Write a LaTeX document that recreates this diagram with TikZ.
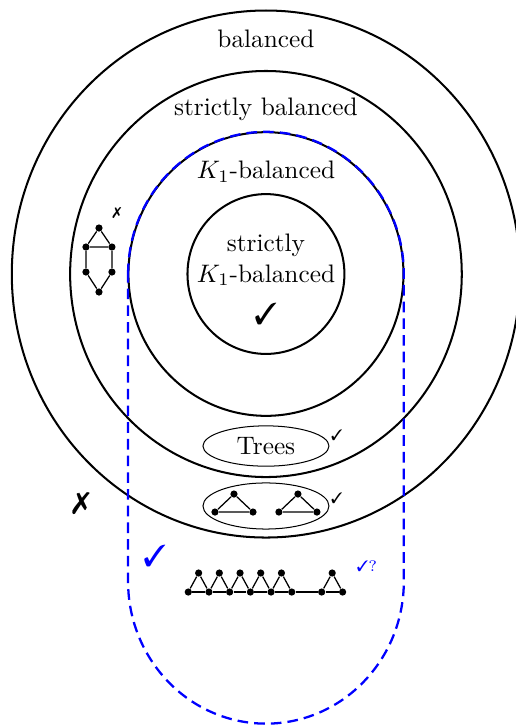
\documentclass[tikz,border=0pt]{standalone}
\usepackage{pifont}
\usetikzlibrary{shapes.geometric,positioning}

\begin{document}
\begin{tikzpicture}[
  ring/.style={draw, line width=0.8pt},
  cage/.style={draw=blue, line width=0.9pt, dash pattern=on 4.2pt off 2.4pt},
  blob/.style={draw, ellipse, inner sep=1pt, minimum width=17.5mm},
  vtx/.style={circle, fill, inner sep=0pt, minimum size=1mm},
  edge/.style={line width=0.5pt},
  bigmark/.style={font=\large, inner sep=0pt},
  smallmark/.style={font=\fontsize{6}{7}\selectfont, inner sep=0pt}
]
\useasboundingbox (-3.694,-6.264) rectangle (3.472,3.806);

% nested classes
\draw[ring] (0,0) ellipse [x radius=3.53, y radius=3.66];
\draw[ring] (0,0) ellipse [x radius=2.72, y radius=2.82];
\draw[ring] (0,0) ellipse [x radius=1.91, y radius=1.97];
\draw[ring] (0,0) ellipse [x radius=1.09, y radius=1.11];
\draw[cage] (-1.915,0) arc[start angle=180, end angle=0, x radius=1.915, y radius=1.975]
  -- (1.915,-4.27) arc[start angle=0, end angle=-180, x radius=1.915, y radius=1.975] -- cycle;

\node (bal) at (0,3.264) {balanced};
\node (sbal) at (0,2.29) {strictly balanced};
\node (kbal) at (0,1.417) {$K_1$-balanced};
\node[align=center] (skbal) at (0,0.194) {strictly\\$K_1$-balanced};
\node[bigmark] (inok) at (0,-0.556) {\ding{51}};

% examples
\node[blob, minimum height=5.6mm] (trees) at (0,-2.389) {Trees};
\node[smallmark] (treesok) at (0.986,-2.236) {\ding{51}};
\node[blob, minimum height=6.4mm] (pair) at (0,-3.222) {};
\node[smallmark] (pairok) at (0.986,-3.111) {\ding{51}};
\foreach \s/\n in {-0.444/l, 0.444/r} {
  \node[vtx] (t\n) at (\s,-3.056) {};
  \node[vtx] (a\n) at (\s-0.264,-3.306) {};
  \node[vtx] (b\n) at (\s+0.264,-3.306) {};
  \draw[edge] (t\n) -- (a\n) -- (b\n) -- (t\n);
}

% graph outside
\node[vtx] (h0) at (-2.319,0.639) {};
\node[vtx] (h1) at (-2.5,0.375) {};
\node[vtx] (h2) at (-2.139,0.375) {};
\node[vtx] (h3) at (-2.5,0.028) {};
\node[vtx] (h4) at (-2.139,0.028) {};
\node[vtx] (h5) at (-2.319,-0.25) {};
\draw[edge] (h1) -- (h0) -- (h2) -- (h1) -- (h3) -- (h5) -- (h4) -- (h2);
\node[smallmark] (hexno) at (-2.069,0.847) {\ding{55}};

% chain of triangles
\foreach \i in {0,...,5} \node[vtx] (c\i) at ({-1.079+0.2875*\i},-4.417) {};
\foreach \i in {0,...,4} \node[vtx] (p\i) at ({-0.935+0.2875*\i},-4.153) {};
\node[vtx] (c6) at (0.774,-4.417) {};
\node[vtx] (c7) at (1.065,-4.417) {};
\node[vtx] (p6) at (0.92,-4.153) {};
\foreach \i/\j in {0/1,1/2,2/3,3/4,4/5,5/6,6/7} \draw[edge] (c\i) -- (c\j);
\foreach \i/\j in {0/1,1/2,2/3,3/4,4/5,6/7} \draw[edge] (c\i) -- (p\i) -- (c\j);
\node[smallmark, blue] (chainok) at (1.403,-4.056) {\ding{51}?};

\node[bigmark] (outno) at (-2.569,-3.194) {\ding{55}};
\node[bigmark, blue] (cageok) at (-1.542,-3.917) {\ding{51}};
\end{tikzpicture}
\end{document}
